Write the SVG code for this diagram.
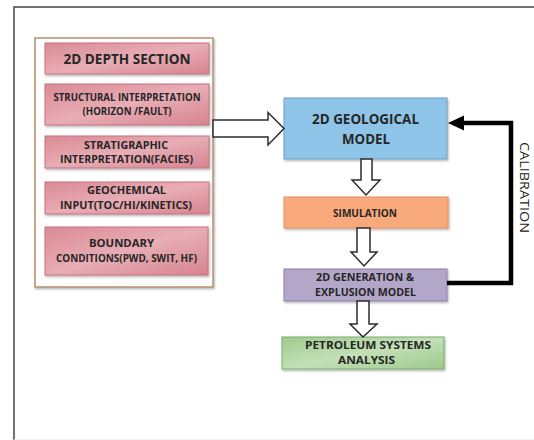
<svg xmlns="http://www.w3.org/2000/svg" width="534" height="440" viewBox="0 0 534 440">
<defs>
<filter id="sh" x="-10%" y="-10%" width="130%" height="140%">
<feDropShadow dx="1" dy="1.5" stdDeviation="1.2" flood-color="#000" flood-opacity="0.3"/>
</filter>
<linearGradient id="gPink" x1="0" y1="0" x2="1" y2="1">
<stop offset="0" stop-color="#da8a95"/><stop offset="0.5" stop-color="#e8adb5"/><stop offset="1" stop-color="#d6848f"/>
</linearGradient>
<linearGradient id="gGreen" x1="0" y1="0" x2="1" y2="1">
<stop offset="0" stop-color="#9fcb8f"/><stop offset="0.5" stop-color="#c3e0b6"/><stop offset="1" stop-color="#9cc98c"/>
</linearGradient>
<style>
.t{font-family:"Open Sans","Liberation Sans",Arial,sans-serif;font-weight:bold;fill:#262626;text-anchor:middle}
.pink{fill:url(#gPink);stroke:#c7737e;stroke-width:1}
.hollow{fill:#fff;stroke:#2b2b2b;stroke-width:1.5;stroke-linejoin:miter}
</style>
</defs>
<rect width="534" height="440" fill="#fff"/>
<path d="M14,440 V7 H534" fill="none" stroke="#444" stroke-width="1.5"/>
<line x1="14" y1="439.5" x2="534" y2="439.5" stroke="#f0f0f0" stroke-width="1"/>

<g id="input-container">
<rect x="35" y="38" width="178" height="249" fill="#fff" stroke="#b58e6c" stroke-width="1.5" filter="url(#sh)"/>
</g>
<g id="depth-section">
<rect class="pink" x="45" y="43" width="164" height="31" filter="url(#sh)"/>
<text class="t" x="127" y="64" font-size="14" textLength="127" lengthAdjust="spacingAndGlyphs">2D DEPTH SECTION</text>
</g>
<g id="structural">
<rect class="pink" x="45" y="84" width="164" height="41" filter="url(#sh)"/>
<text class="t" x="127" y="100.5" font-size="10" textLength="147" lengthAdjust="spacingAndGlyphs">STRUCTURAL INTERPRETATION</text>
<text class="t" x="127" y="115" font-size="10" textLength="89" lengthAdjust="spacingAndGlyphs">(HORIZON /FAULT)</text>
</g>
<g id="stratigraphic">
<rect class="pink" x="45" y="136" width="164" height="32" filter="url(#sh)"/>
<text class="t" x="126" y="148.5" font-size="10" textLength="84" lengthAdjust="spacingAndGlyphs">STRATIGRAPHIC</text>
<text class="t" x="126.5" y="163" font-size="10" textLength="133" lengthAdjust="spacingAndGlyphs">INTERPRETATION(FACIES)</text>
</g>
<g id="geochemical">
<rect class="pink" x="45" y="182" width="164" height="32" filter="url(#sh)"/>
<text class="t" x="126.5" y="194" font-size="10" textLength="79" lengthAdjust="spacingAndGlyphs">GEOCHEMICAL</text>
<text class="t" x="126" y="209" font-size="10" textLength="132" lengthAdjust="spacingAndGlyphs">INPUT(TOC/HI/KINETICS)</text>
</g>
<g id="boundary">
<rect class="pink" x="45" y="227" width="163" height="48" filter="url(#sh)"/>
<text class="t" x="121.5" y="247" font-size="10" textLength="65" lengthAdjust="spacingAndGlyphs">BOUNDARY</text>
<text class="t" x="126.5" y="262" font-size="10" textLength="141" lengthAdjust="spacingAndGlyphs">CONDITIONS(PWD,  SWIT, HF)</text>
</g>

<g id="geological-model">
<rect x="284" y="98" width="163" height="61" fill="#8fc4e9" stroke="#6b9fca" stroke-width="1" filter="url(#sh)"/>
<text class="t" x="365.5" y="124" font-size="14" textLength="107" lengthAdjust="spacingAndGlyphs">2D GEOLOGICAL</text>
<text class="t" x="366" y="144" font-size="14" textLength="48" lengthAdjust="spacingAndGlyphs">MODEL</text>
</g>
<g id="simulation">
<rect x="284" y="197" width="164" height="31" fill="#f9aa7c" stroke="#e38f5c" stroke-width="1" filter="url(#sh)"/>
<text class="t" x="365" y="216.5" font-size="10.5" textLength="64" lengthAdjust="spacingAndGlyphs">SIMULATION</text>
</g>
<g id="generation-expulsion">
<rect x="284" y="269" width="163" height="32" fill="#b3a7c9" stroke="#8d80ab" stroke-width="1" filter="url(#sh)"/>
<text class="t" x="365" y="281" font-size="10.5" textLength="98" lengthAdjust="spacingAndGlyphs">2D GENERATION &amp;</text>
<text class="t" x="365.5" y="296" font-size="10.5" textLength="101" lengthAdjust="spacingAndGlyphs">EXPLUSION MODEL</text>
</g>
<g id="petroleum-systems">
<rect x="282" y="337" width="162" height="32" fill="url(#gGreen)" stroke="#7dab6d" stroke-width="1" filter="url(#sh)"/>
<text class="t" x="368" y="349" font-size="10.5" textLength="126" lengthAdjust="spacingAndGlyphs">PETROLEUM SYSTEMS</text>
<text class="t" x="366.5" y="364" font-size="10.5" textLength="57" lengthAdjust="spacingAndGlyphs">ANALYSIS</text>
</g>

<g id="connectors">
<polygon class="hollow" points="213,120 268,120 268,112.5 284,128.5 268,145 268,137 213,137"/>
<polygon class="hollow" points="361,159 372,159 372,180 380,180 366,195 352,180 361,180"/>
<polygon class="hollow" points="357,228 370,228 370,252 377,252 364,266 351,252 357,252"/>
<polygon class="hollow" points="357,301 369,301 369,324 377,324 363,337 350,324 357,324"/>
<path d="M447,283 H511 V123 H462" fill="none" stroke="#000" stroke-width="4.5" stroke-linejoin="miter"/>
<path d="M448,123 L464,115.5 L464,130.5 Z" fill="#000"/>
<text x="520" y="187.5" transform="rotate(90 520 187.5)" font-family="Open Sans,Liberation Sans,Arial,sans-serif" font-size="12.5" fill="#222" text-anchor="middle" textLength="91" lengthAdjust="spacingAndGlyphs">CALIBRATION</text>
</g>
</svg>
